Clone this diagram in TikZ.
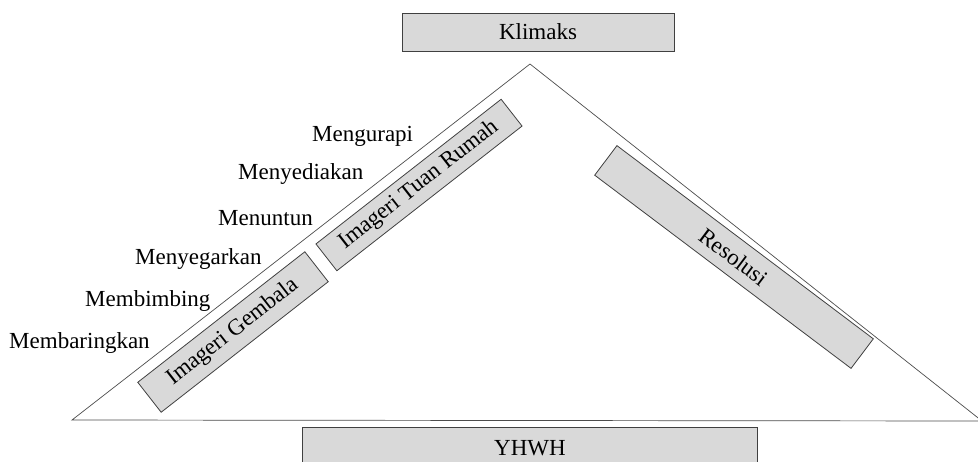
\documentclass[tikz,border=0pt]{standalone}
\usepackage{fontspec}
\setmainfont{Liberation Serif}
\begin{document}
\begin{tikzpicture}[x=1pt,y=-1pt,
  every node/.style={font=\fontsize{23}{27}\selectfont},
  gbox/.style={draw=black!75, fill=black!15, line width=0.8pt, inner sep=0pt},
  lab/.style={anchor=base west, inner sep=0pt},
  tri/.style={draw=black!70, line width=0.7pt}]
\useasboundingbox (0,0) rectangle (978,461);
\coordinate (apex) at (530,64);
\coordinate (bl) at (72,420);
\coordinate (br) at (982,421);
\draw[tri] (bl) -- (apex) -- (br) -- cycle;
\node[gbox, minimum width=272pt, minimum height=38pt] (klimaks) at (538,32) {Klimaks};
\node[gbox, minimum width=455pt, minimum height=42pt] (yhwh) at (530,448) {YHWH};
\node[gbox, rotate=38, minimum width=212pt, minimum height=38pt] (gembala) at (233,332) {Imageri Gembala};
\node[gbox, rotate=38, minimum width=235pt, minimum height=34pt] (tuan) at (419,185) {Imageri Tuan Rumah};
\node[gbox, rotate=-37, minimum width=321pt, minimum height=37pt] (resolusi) at (734,257) {Resolusi};
\node[lab] (l1) at (312,141) {Mengurapi};
\node[lab] (l2) at (238,179) {Menyediakan};
\node[lab] (l3) at (218,225) {Menuntun};
\node[lab] (l4) at (135,264) {Menyegarkan};
\node[lab] (l5) at (85,306) {Membimbing};
\node[lab] (l6) at (9,348) {Membaringkan};
\end{tikzpicture}
\end{document}
